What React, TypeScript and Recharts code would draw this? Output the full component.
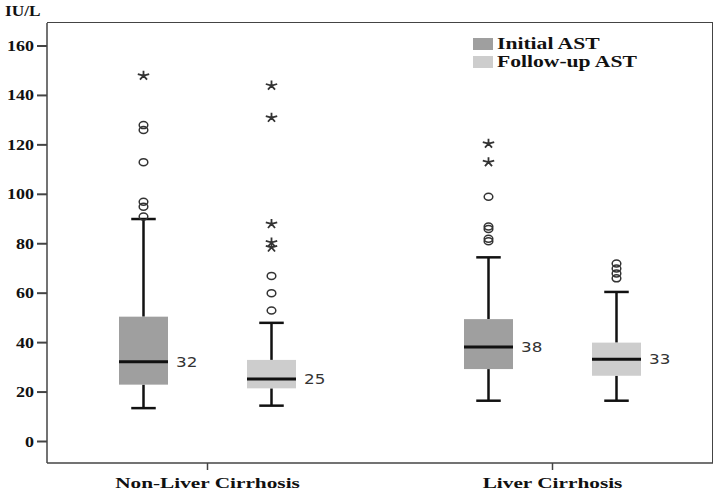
import { ComposedChart, Bar, XAxis, YAxis } from 'recharts'

const groups = ['Non-Liver Cirrhosis', 'Liver Cirrhosis']

// Initial AST
const initialMin = [13.5, 16.5]
const initialQ1 = [23, 29.3]
const initialMedian = [32.3, 38.2]
const initialQ3 = [50.5, 49.5]
const initialMax = [90, 74.5]
const initialOutliers = [[91, 95, 97, 113, 126, 128], [81, 82, 86, 87, 99]]
const initialExtremes = [[148], [113, 120.5]]
const initialLabels = ['32', '38']

// Follow-up AST
const followMin = [14.5, 16.5]
const followQ1 = [21.5, 26.6]
const followMedian = [25.3, 33.3]
const followQ3 = [33, 40]
const followMax = [48, 60.5]
const followOutliers = [[53, 60, 67], [66, 68, 70, 72]]
const followExtremes = [[78.5, 80.5, 88, 131, 144], []]
const followLabels = ['25', '33']

const yTicks = [0, 20, 40, 60, 80, 100, 120, 140, 160]
const yDomain = [-8.7, 169.3]

const INITIAL_COLOR = '#9f9f9f'
const FOLLOW_COLOR = '#cdcdcd'
const SERIF = '"Liberation Serif", "Times New Roman", serif'

type Stats = {
    min: number[]; q1: number[]; median: number[]; q3: number[]; max: number[]
    outliers: number[][]; extremes: number[][]; labels: string[]
}

const initialStats: Stats = { min: initialMin, q1: initialQ1, median: initialMedian, q3: initialQ3, max: initialMax, outliers: initialOutliers, extremes: initialExtremes, labels: initialLabels }
const followStats: Stats = { min: followMin, q1: followQ1, median: followMedian, q3: followQ3, max: followMax, outliers: followOutliers, extremes: followExtremes, labels: followLabels }

const data = groups.map((g, i) => ({
    group: g,
    initial: [initialQ1[i], initialQ3[i]],
    followUp: [followQ1[i], followQ3[i]],
}))

function star(cx: number, cy: number, rx: number, ry: number) {
    let d = ''
    for (let k = 0; k < 5; k++) {
        const a = (-90 + k * 72) * Math.PI / 180
        d += `M${cx},${cy}L${cx + rx * Math.cos(a)},${cy + ry * Math.sin(a)}`
    }
    return d
}

function BoxShape(props: any) {
    const { x, y, width, height, index, fill, stats } = props
    const s: Stats = stats
    const i = index
    const top = Math.min(y, y + height)
    const bottom = Math.max(y, y + height)
    // pixels per unit, taken from the bar the library placed between q1 and q3
    const ppu = (bottom - top) / (s.q3[i] - s.q1[i])
    const py = (v: number) => bottom - (v - s.q1[i]) * ppu
    const cx = x + width / 2
    const cap = width / 4
    const medY = py(s.median[i])
    const lx = x + width + 8
    return (
        <g>
            <line x1={cx} x2={cx} y1={top} y2={py(s.max[i])} stroke="#111" strokeWidth={2.5} />
            <line x1={cx} x2={cx} y1={bottom} y2={py(s.min[i])} stroke="#111" strokeWidth={2.5} />
            <line x1={cx - cap} x2={cx + cap} y1={py(s.max[i])} y2={py(s.max[i])} stroke="#111" strokeWidth={2.5} />
            <line x1={cx - cap} x2={cx + cap} y1={py(s.min[i])} y2={py(s.min[i])} stroke="#111" strokeWidth={2.5} />
            <rect x={x} y={top} width={width} height={bottom - top} fill={fill} />
            <line x1={x} x2={x + width} y1={medY} y2={medY} stroke="#111" strokeWidth={3} />
            <text x={0} y={0} transform={`translate(${lx},${medY + 5}) scale(1.2,1)`} fontFamily='"DejaVu Sans", sans-serif' fontSize={14} fill="#333">{s.labels[i]}</text>
            {s.outliers[i].map((v, k) => (
                <ellipse key={'o' + k} cx={cx} cy={py(v)} rx={4.3} ry={3.5} fill="none" stroke="#333" strokeWidth={1.5} />
            ))}
            {s.extremes[i].map((v, k) => (
                <path key={'e' + k} d={star(cx, py(v), 6, 5)} stroke="#333" strokeWidth={1.8} fill="none" />
            ))}
        </g>
    )
}

function XTick(props: any) {
    const { x, y, payload } = props
    return (
        <g transform={`translate(${x},${y})`}>
            <text x={0} y={0} dy={14} transform="scale(1.42,1)" textAnchor="middle" fontFamily={SERIF} fontWeight={700} fontSize={15} fill="#111">{payload.value}</text>
        </g>
    )
}

function YTick(props: any) {
    const { x, y, payload } = props
    return (
        <g transform={`translate(${x},${y})`}>
            <text x={0} y={0} dy={5} transform="scale(1.2,1)" textAnchor="end" fontFamily={SERIF} fontWeight={700} fontSize={15} fill="#111">{payload.value}</text>
        </g>
    )
}

export default function App() {
    return (
        <div style={{ position: 'absolute', left: 0, top: 0, width: 720, height: 494, background: '#fff' }}>
            <div style={{ position: 'absolute', left: 5, top: 3, fontFamily: SERIF, fontWeight: 700, fontSize: 15, color: '#111', transform: 'scaleX(1.15)', transformOrigin: 'left' }}>IU/L</div>
            {/* top and right edges of the plot frame */}
            <div style={{ position: 'absolute', left: 47, top: 22, width: 666, height: 441, borderTop: '1.5px solid #444', borderRight: '1.5px solid #444', boxSizing: 'border-box' }} />
            <ComposedChart width={720} height={494} data={data} margin={{ top: 23, right: 7, bottom: 0, left: 0 }} barSize={49} barGap={79}>
                <XAxis
                    dataKey="group"
                    height={31}
                    padding={{ left: -12, right: -12 }}
                    axisLine={{ stroke: '#444', strokeWidth: 1.5 }}
                    tickLine={{ stroke: '#444', strokeWidth: 1.5 }}
                    tickSize={7}
                    tickMargin={4}
                    tick={<XTick />}
                />
                <YAxis
                    width={47}
                    domain={yDomain}
                    ticks={yTicks}
                    allowDataOverflow
                    axisLine={{ stroke: '#444', strokeWidth: 1.5 }}
                    tickLine={{ stroke: '#444', strokeWidth: 2 }}
                    tickSize={10}
                    tickMargin={3}
                    tick={<YTick />}
                />
                <Bar dataKey="initial" name="Initial AST" fill={INITIAL_COLOR} isAnimationActive={false}
                    shape={(p: any) => <BoxShape {...p} stats={initialStats} />} />
                <Bar dataKey="followUp" name="Follow-up AST" fill={FOLLOW_COLOR} isAnimationActive={false}
                    shape={(p: any) => <BoxShape {...p} stats={followStats} />} />
            </ComposedChart>
            <div style={{ position: 'absolute', left: 473, top: 35, fontFamily: SERIF, fontWeight: 700, fontSize: 16, color: '#111', lineHeight: '18px' }}>
                {[['Initial AST', INITIAL_COLOR], ['Follow-up AST', FOLLOW_COLOR]].map(([label, color]) => (
                    <div key={label} style={{ display: 'flex', alignItems: 'center', height: 18 }}>
                        <span style={{ display: 'inline-block', width: 20, height: 12, background: color, marginRight: 4 }} />
                        <span style={{ display: 'inline-block', transform: 'scaleX(1.35)', transformOrigin: 'left' }}>{label}</span>
                    </div>
                ))}
            </div>
        </div>
    )
}
